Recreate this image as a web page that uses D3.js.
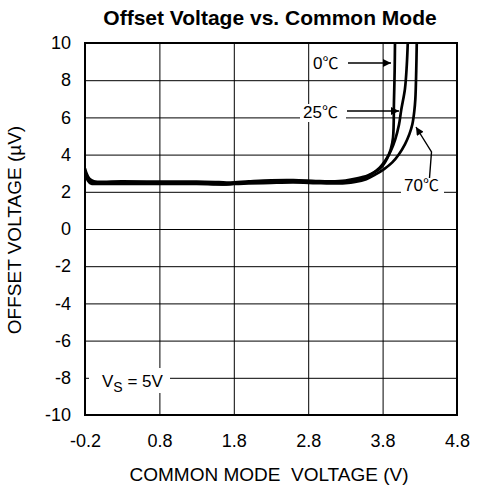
<!DOCTYPE html>
<html>
<head>
<meta charset="utf-8">
<script src="https://cdn.jsdelivr.net/npm/d3@7"></script>
<style>
  html, body { margin: 0; padding: 0; background: #fff; }
  svg { display: block; }
  text { font-family: "Liberation Sans", Arial, "Noto Sans CJK SC", sans-serif; fill: #000; }
</style>
</head>
<body>
<div id="chart"></div>
<script>
// ---------- data ----------
const chartTitle = "Offset Voltage vs. Common Mode";
const xAxisTitle = "COMMON MODE  VOLTAGE (V)";
const yAxisTitle = "OFFSET VOLTAGE (\u00B5V)";
const xTickValues = [-0.2, 0.8, 1.8, 2.8, 3.8, 4.8];
const xTickLabels = ["-0.2", "0.8", "1.8", "2.8", "3.8", "4.8"];
const yTickValues = [-10, -8, -6, -4, -2, 0, 2, 4, 6, 8, 10];
const yTickLabels = ["-10", "-8", "-6", "-4", "-2", "0", "2", "4", "6", "8", "10"];
const seriesTemps = ["0", "25", "70"];
const tempUnit = "\u2103";

const t0_x  = [-0.2, -0.18, -0.14, -0.08, 0.3, 0.8, 1.3, 1.6, 1.75, 2.0, 2.3, 2.6, 2.9, 3.1, 3.3, 3.46, 3.6, 3.72, 3.8, 3.86, 3.91, 3.94, 3.953, 3.962, 3.967];
const t0_y  = [3.25, 3.0, 2.7, 2.57, 2.56, 2.55, 2.55, 2.52, 2.5, 2.56, 2.62, 2.63, 2.58, 2.56, 2.6, 2.72, 2.88, 3.12, 3.4, 3.78, 4.3, 4.9, 6.9, 8.5, 10.2];
const t25_x = [-0.2, -0.17, -0.13, -0.06, 0.3, 0.8, 1.3, 1.55, 1.7, 1.9, 2.3, 2.6, 2.9, 3.1, 3.3, 3.43, 3.56, 3.66, 3.76, 3.83, 3.91, 3.97, 4.02, 4.05, 4.10, 4.125, 4.14];
const t25_y = [3.15, 2.8, 2.55, 2.49, 2.49, 2.48, 2.47, 2.42, 2.4, 2.48, 2.55, 2.57, 2.52, 2.5, 2.52, 2.6, 2.75, 2.98, 3.3, 3.64, 4.2, 4.82, 5.6, 6.39, 7.52, 8.8, 10.2];
const t70_x = [-0.2, -0.16, -0.12, -0.04, 0.3, 0.8, 1.3, 1.6, 1.8, 2.0, 2.3, 2.6, 2.9, 3.1, 3.3, 3.43, 3.58, 3.70, 3.82, 3.93, 4.02, 4.10, 4.16, 4.20, 4.225, 4.24, 4.252, 4.26];
const t70_y = [3.0, 2.6, 2.45, 2.43, 2.43, 2.42, 2.42, 2.4, 2.42, 2.45, 2.48, 2.5, 2.47, 2.45, 2.47, 2.53, 2.68, 2.92, 3.22, 3.58, 4.02, 4.55, 5.1, 5.63, 6.3, 6.98, 8.5, 10.2];

// ---------- layout ----------
const W = 477, H = 485;
const L = 85, R = 457, T = 43, B = 415;

const svg = d3.select("#chart").append("svg").attr("width", W).attr("height", H);

const x = d3.scaleLinear().domain([-0.2, 4.8]).range([L, R]);
const y = d3.scaleLinear().domain([-10, 10]).range([B, T]);

// grid via axes
const gx = svg.append("g").attr("transform", `translate(0,${B})`)
  .call(d3.axisBottom(x).tickValues(xTickValues).tickSize(-(B - T))
        .tickFormat((d, i) => xTickLabels[i]).tickPadding(18));
gx.select(".domain").remove();
gx.selectAll(".tick line").attr("stroke", "#000").attr("stroke-width", 1);
gx.selectAll(".tick text").attr("font-size", 18).attr("dy", 0).attr("y", 32)
  .attr("font-family", '"Liberation Sans", Arial, sans-serif');

const gy = svg.append("g").attr("transform", `translate(${L},0)`)
  .call(d3.axisLeft(y).tickValues(yTickValues).tickSize(-(R - L))
        .tickFormat((d, i) => yTickLabels[i]).tickPadding(14));
gy.select(".domain").remove();
gy.selectAll(".tick line").attr("stroke", "#000").attr("stroke-width", 1);
gy.selectAll(".tick text").attr("font-size", 18).attr("x", -14)
  .attr("font-family", '"Liberation Sans", Arial, sans-serif');

// frame
svg.append("rect").attr("x", L).attr("y", T).attr("width", R - L).attr("height", B - T)
  .attr("fill", "none").attr("stroke", "#000").attr("stroke-width", 2);

// label backgrounds (mask grid lines)
const bg = svg.append("g").attr("fill", "#fff");
bg.append("rect").attr("x", 300).attr("y", 104).attr("width", 46).attr("height", 18);
bg.append("rect").attr("x", 401).attr("y", 177).attr("width", 43).attr("height", 20);
bg.append("rect").attr("x", 89).attr("y", 368).attr("width", 81).attr("height", 25);

// clip
svg.append("clipPath").attr("id", "plotclip").append("rect")
  .attr("x", L).attr("y", T).attr("width", R - L).attr("height", B - T);

const line = d3.line().x(d => x(d[0])).y(d => y(d[1])).curve(d3.curveCatmullRom.alpha(0.5));
const series = [
  d3.zip(t0_x, t0_y),
  d3.zip(t25_x, t25_y),
  d3.zip(t70_x, t70_y)
];
svg.append("g").attr("clip-path", "url(#plotclip)")
  .selectAll("path").data(series).join("path")
  .attr("d", line).attr("fill", "none").attr("stroke", "#000")
  .attr("stroke-width", 2.7).attr("stroke-linejoin", "round").attr("stroke-linecap", "round");

// arrow marker
svg.append("defs").append("marker").attr("id", "arr")
  .attr("viewBox", "0 0 10 10").attr("refX", 10).attr("refY", 5)
  .attr("markerWidth", 11).attr("markerHeight", 8).attr("markerUnits", "userSpaceOnUse")
  .attr("orient", "auto")
  .append("path").attr("d", "M0,0 L10,5 L0,10 Z").attr("fill", "#000");

const ann = svg.append("g");
ann.append("line").attr("x1", 348).attr("y1", 63).attr("x2", 391).attr("y2", 63)
  .attr("stroke", "#000").attr("stroke-width", 1.4).attr("marker-end", "url(#arr)");
ann.append("line").attr("x1", 347).attr("y1", 111).attr("x2", 399).attr("y2", 111)
  .attr("stroke", "#000").attr("stroke-width", 1.4).attr("marker-end", "url(#arr)");
ann.append("polyline").attr("points", "429.5,178 431.5,152 416,127")
  .attr("fill", "none").attr("stroke", "#000").attr("stroke-width", 1.4).attr("marker-end", "url(#arr)");

function tempLabel(xp, yp, t) {
  const tx = ann.append("text").attr("x", xp).attr("y", yp).attr("font-size", 17);
  tx.append("tspan").text(t);
  tx.append("tspan").attr("font-family", '"Noto Sans CJK SC", "DejaVu Sans", sans-serif')
    .attr("font-size", 16).text(tempUnit);
}
tempLabel(313, 69, seriesTemps[0]);
tempLabel(303, 118, seriesTemps[1]);
tempLabel(404, 191, seriesTemps[2]);

const vs = ann.append("text").attr("x", 102).attr("y", 387).attr("font-size", 17);
vs.append("tspan").text("V");
vs.append("tspan").attr("font-size", 14).attr("dy", 5).text("S");
vs.append("tspan").attr("dy", -5).text(" = 5V");

// titles
svg.append("text").attr("x", 270).attr("y", 25).attr("text-anchor", "middle")
  .attr("font-size", 21).attr("font-weight", "bold").text(chartTitle);
svg.append("text").attr("x", 269).attr("y", 481).attr("text-anchor", "middle")
  .attr("font-size", 19).style("white-space", "pre").text(xAxisTitle);
svg.append("text").attr("transform", "translate(21,230) rotate(-90)").attr("text-anchor", "middle")
  .attr("font-size", 19).text(yAxisTitle);
</script>
</body>
</html>
